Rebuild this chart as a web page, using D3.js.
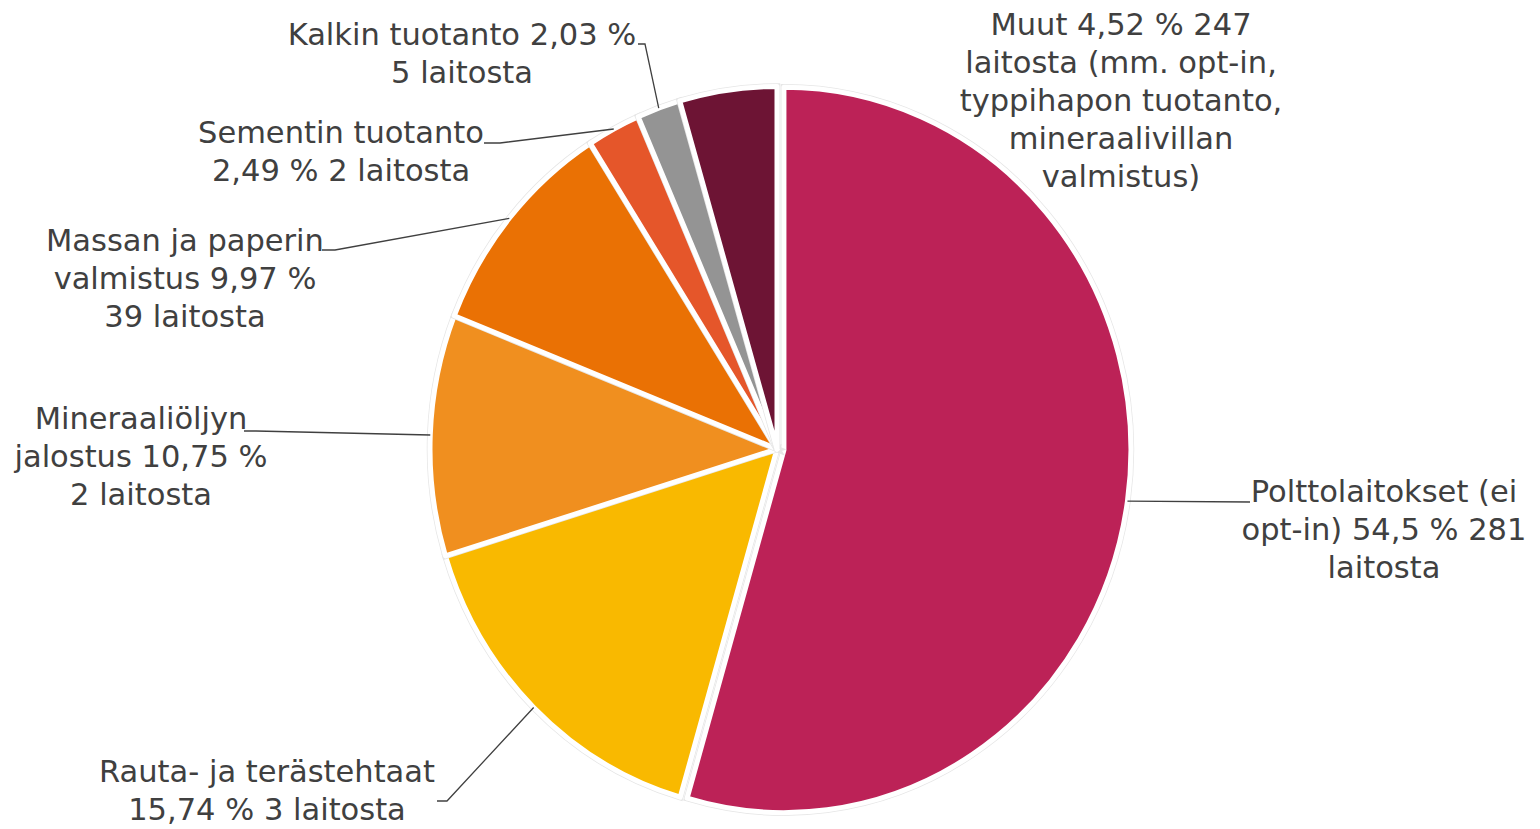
<!DOCTYPE html>
<html><head><meta charset="utf-8">
<script src="https://cdn.jsdelivr.net/npm/d3@7"></script>
<style>html,body{margin:0;padding:0;background:#fff;}svg{display:block;}</style>
</head><body>
<svg id="chart" width="1540" height="829"></svg>
<script>
const categories = ["Polttolaitokset", "Rauta- ja terästehtaat", "Mineraaliöljyn jalostus", "Massan ja paperin valmistus", "Sementin tuotanto", "Kalkin tuotanto", "Muut"];
const values = [54.5, 15.74, 10.75, 9.97, 2.49, 2.03, 4.52];
const labelLines = [
  ["Polttolaitokset (ei", "opt-in) 54,5 % 281", "laitosta"],
  ["Rauta- ja terästehtaat", "15,74 % 3 laitosta"],
  ["Mineraaliöljyn", "jalostus 10,75 %", "2 laitosta"],
  ["Massan ja paperin", "valmistus 9,97 %", "39 laitosta"],
  ["Sementin tuotanto", "2,49 % 2 laitosta"],
  ["Kalkin tuotanto 2,03 %", "5 laitosta"],
  ["Muut 4,52 % 247", "laitosta (mm. opt-in,", "typpihapon tuotanto,", "mineraalivillan", "valmistus)"]
];
const colors = ["#BC2257", "#F9B900", "#F08F1F", "#EA7104", "#E5562A", "#949494", "#6D1434"];

// layout (positions of labels: center x, first baseline y; leader elbow)
const labelLayout = [
  {x: 1384, y: 502, elbow: null, end: [1250, 502]},
  {x: 267, y: 782, elbow: [447, 801], end: [437, 801]},
  {x: 141, y: 429, elbow: [256, 431], end: [244, 431]},
  {x: 185, y: 251, elbow: [335, 250], end: [322, 250]},
  {x: 341, y: 143, elbow: [500, 143], end: [484, 143]},
  {x: 462, y: 45, elbow: [645, 44], end: [638, 44]},
  {x: 1121, y: 35, elbow: null, end: null}
];

const cx = 777, cy = 449, R = 347, sy = 1.045, explode = [7, 0, 0, 0, 0, 0, 0];
const lineH = 38;

const svg = d3.select("#chart");
const pie = d3.pie().sort(null).value(d => d)(values);
const arc = d3.arc().innerRadius(0).outerRadius(R);

const g = svg.append("g");
pie.forEach((p, i) => {
  const mid = (p.startAngle + p.endAngle) / 2;
  const ox = explode[i] * Math.sin(mid), oy = -explode[i] * Math.cos(mid);
  const sg = g.append("g").attr("transform", `translate(${cx + ox},${cy + oy}) scale(1,${sy})`);
  sg.append("path").attr("d", arc(p)).attr("fill", "none")
    .attr("stroke", "#e6e6e6").attr("stroke-width", 6.5).attr("vector-effect", "non-scaling-stroke");
  sg.append("path").attr("d", arc(p)).attr("fill", colors[i])
    .attr("stroke", "#fff").attr("stroke-width", 5).attr("stroke-linejoin", "round").attr("vector-effect", "non-scaling-stroke");
});

// leader lines
pie.forEach((p, i) => {
  const L = labelLayout[i];
  if (!L.end) return;
  const mid = (p.startAngle + p.endAngle) / 2;
  const ox = explode[i] * Math.sin(mid), oy = -explode[i] * Math.cos(mid);
  const ax = cx + ox + R * Math.sin(mid), ay = cy + oy - R * Math.cos(mid) * sy;
  const pts = [[ax, ay]];
  if (L.elbow) pts.push(L.elbow);
  pts.push(L.end);
  svg.append("path").attr("d", d3.line()(pts)).attr("fill", "none")
    .attr("stroke", "#404040").attr("stroke-width", 1.3);
});

// labels
labelLines.forEach((lines, i) => {
  const L = labelLayout[i];
  const t = svg.append("text").attr("text-anchor", "middle")
    .attr("font-family", "'DejaVu Sans', sans-serif")
    .attr("font-size", 30.5).attr("fill", "#404040");
  lines.forEach((s, j) => t.append("tspan").attr("x", L.x).attr("y", L.y + j * lineH).text(s));
});
</script>
</body></html>
